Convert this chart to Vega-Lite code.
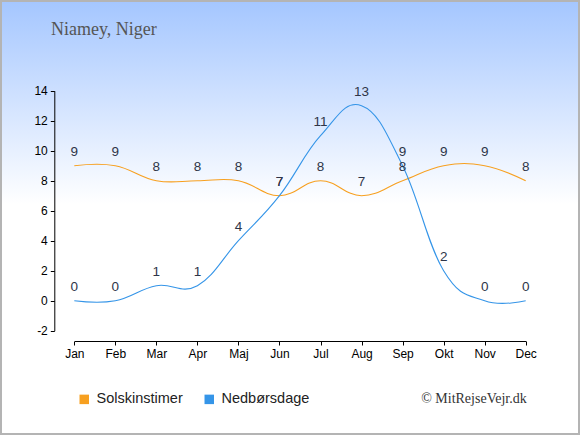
{
  "$schema": "https://vega.github.io/schema/vega-lite/v6.json",
  "width": 580,
  "height": 435,
  "autosize": "none",
  "padding": 0,
  "title": {
    "text": "Niamey, Niger",
    "anchor": "start",
    "frame": "group",
    "orient": "top",
    "offset": -36,
    "baseline": "alphabetic",
    "dx": 51,
    "dy": 16.5,
    "font": "Liberation Serif",
    "fontSize": 18,
    "fontWeight": "normal",
    "color": "#555555"
  },
  "config": {
    "view": {
      "fill": {
        "gradient": "linear",
        "x1": 0, "y1": 0, "x2": 0, "y2": 1,
        "stops": [
          {"offset": 0, "color": "#a4c6ff"},
          {"offset": 0.47, "color": "#ffffff"},
          {"offset": 1, "color": "#ffffff"}
        ]
      },
      "stroke": "#b4b4b4",
      "strokeWidth": 4
    },
    "axis": {
      "labelFont": "Liberation Sans",
      "labelFontSize": 12,
      "labelColor": "#000000",
      "domainColor": "#000000",
      "tickColor": "#000000",
      "grid": false,
      "title": null
    }
  },
  "data": {
    "values": [
      {"month": "Jan", "series": "Solskinstimer", "value": 9},
      {"month": "Feb", "series": "Solskinstimer", "value": 9},
      {"month": "Mar", "series": "Solskinstimer", "value": 8},
      {"month": "Apr", "series": "Solskinstimer", "value": 8},
      {"month": "Maj", "series": "Solskinstimer", "value": 8},
      {"month": "Jun", "series": "Solskinstimer", "value": 7},
      {"month": "Jul", "series": "Solskinstimer", "value": 8},
      {"month": "Aug", "series": "Solskinstimer", "value": 7},
      {"month": "Sep", "series": "Solskinstimer", "value": 8},
      {"month": "Okt", "series": "Solskinstimer", "value": 9},
      {"month": "Nov", "series": "Solskinstimer", "value": 9},
      {"month": "Dec", "series": "Solskinstimer", "value": 8},
      {"month": "Jan", "series": "Nedbørsdage", "value": 0},
      {"month": "Feb", "series": "Nedbørsdage", "value": 0},
      {"month": "Mar", "series": "Nedbørsdage", "value": 1},
      {"month": "Apr", "series": "Nedbørsdage", "value": 1},
      {"month": "Maj", "series": "Nedbørsdage", "value": 4},
      {"month": "Jun", "series": "Nedbørsdage", "value": 7},
      {"month": "Jul", "series": "Nedbørsdage", "value": 11},
      {"month": "Aug", "series": "Nedbørsdage", "value": 13},
      {"month": "Sep", "series": "Nedbørsdage", "value": 9},
      {"month": "Okt", "series": "Nedbørsdage", "value": 2},
      {"month": "Nov", "series": "Nedbørsdage", "value": 0},
      {"month": "Dec", "series": "Nedbørsdage", "value": 0}
    ]
  },
  "encoding": {
    "x": {
      "field": "month",
      "type": "ordinal",
      "sort": ["Jan","Feb","Mar","Apr","Maj","Jun","Jul","Aug","Sep","Okt","Nov","Dec"],
      "scale": {"type": "point", "padding": 0, "range": [74.3, 525.7]},
      "axis": {"orient": "bottom", "offset": -94, "labelAngle": 0, "tickSize": 4, "labelPadding": 3}
    },
    "y": {
      "field": "value",
      "type": "quantitative",
      "scale": {"domain": [-2, 14], "range": [330.7, 90.7], "nice": false, "zero": false},
      "axis": {"orient": "left", "offset": -54.3, "values": [-2,0,2,4,6,8,10,12,14], "tickSize": 4, "labelPadding": 3, "labelExpr": "'' + datum.value"}
    }
  },
  "layer": [
    {
      "mark": {"type": "line", "interpolate": "cardinal", "tension": -0.2, "strokeWidth": 1.1},
      "encoding": {
        "color": {
          "field": "series",
          "type": "nominal",
          "scale": {"domain": ["Solskinstimer", "Nedbørsdage"], "range": ["#f7a020", "#3595e8"]},
          "legend": {
            "orient": "none",
            "legendX": 77,
            "legendY": 392,
            "direction": "horizontal",
            "title": null,
            "symbolType": "square",
            "symbolSize": 90,
            "labelFont": "Liberation Sans",
            "labelFontSize": 14.5,
            "labelColor": "#222222",
            "labelOffset": 5,
            "columnPadding": 19,
            "padding": 0,
            "encode": {
              "symbols": {
                "update": {
                  "fill": {"scale": "color", "field": "value"},
                  "fillOpacity": {"value": 1},
                  "opacity": {"value": 1},
                  "strokeWidth": {"value": 0},
                  "size": {"value": 90}
                }
              }
            }
          }
        }
      }
    },
    {
      "mark": {"type": "text", "dy": -10, "baseline": "alphabetic", "align": "center", "font": "Liberation Sans", "fontSize": 13.5, "color": "#2e3548"},
      "encoding": {
        "text": {"field": "value", "type": "quantitative"}
      }
    },
    {
      "transform": [
        {"filter": "datum.month === 'Dec' && datum.series === 'Nedbørsdage'"}
      ],
      "mark": {"type": "text", "align": "right", "baseline": "alphabetic", "font": "Liberation Serif", "fontSize": 14, "color": "#333333", "dx": 1},
      "encoding": {
        "x": {"datum": "Dec"},
        "y": {"datum": -6.82},
        "text": {"value": "© MitRejseVejr.dk"}
      }
    }
  ]
}
